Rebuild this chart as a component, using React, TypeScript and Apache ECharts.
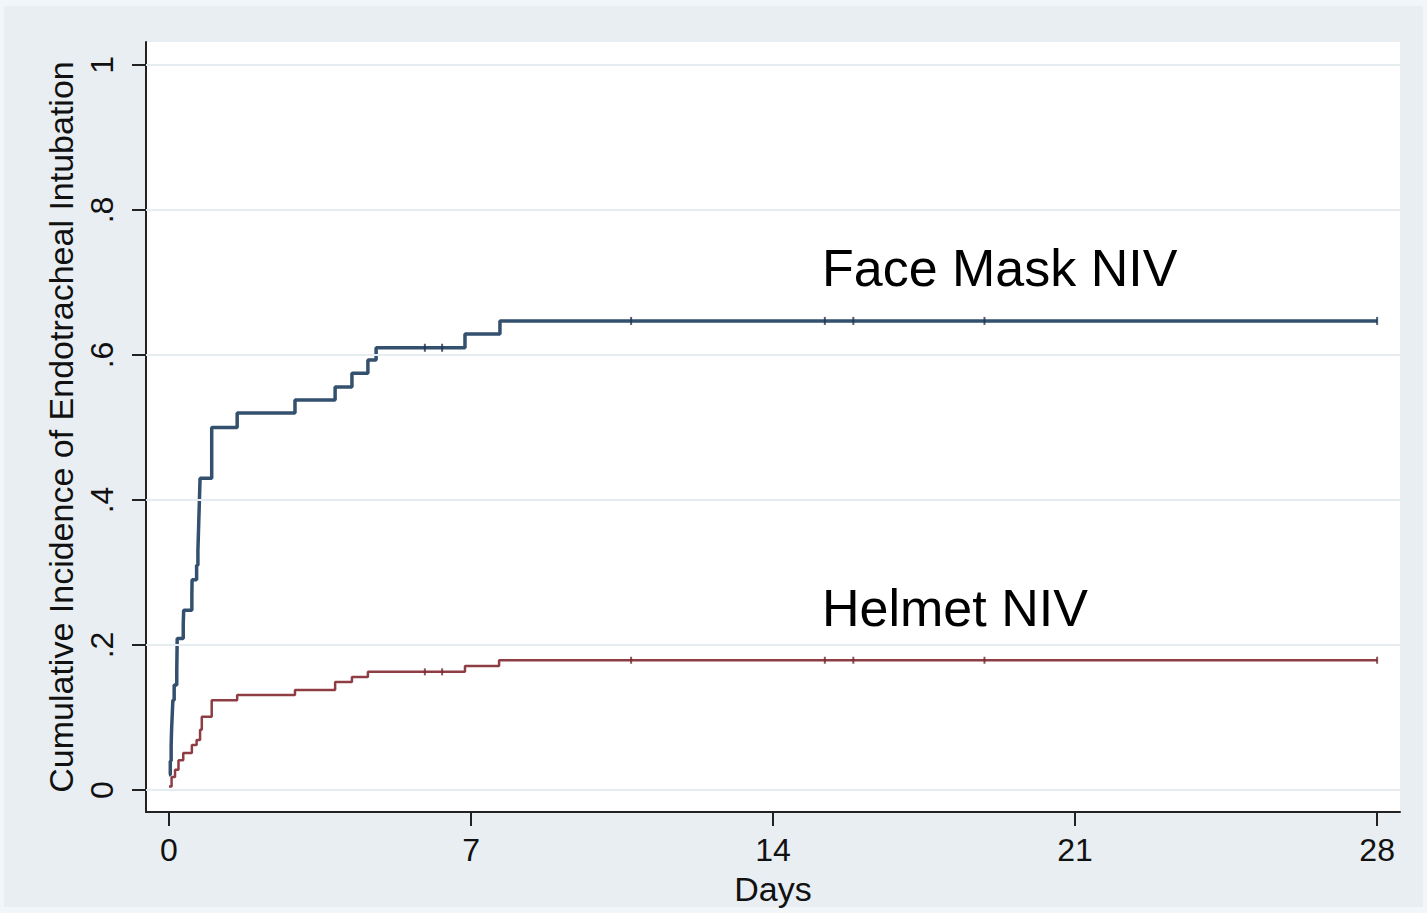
import React, { useEffect, useRef } from "react";
import * as echarts from "echarts";

const xTicks = [0, 7, 14, 21, 28];
const yTicks = [0, 0.2, 0.4, 0.6, 0.8, 1];

// Face Mask NIV cumulative incidence [day, value]
const faceMask: [number, number][] = [
  [0, 0.021], [0.03, 0.04], [0.05, 0.062], [0.06, 0.083], [0.075, 0.104],
  [0.09, 0.124], [0.12, 0.145], [0.18, 0.166], [0.185, 0.187], [0.19, 0.209],
  [0.33, 0.228], [0.34, 0.248], [0.53, 0.269], [0.535, 0.29], [0.64, 0.31],
  [0.67, 0.33], [0.68, 0.35], [0.69, 0.37], [0.70, 0.39], [0.71, 0.41],
  [0.72, 0.43], [0.99, 0.50], [1.58, 0.52], [2.92, 0.538], [3.85, 0.556],
  [4.24, 0.575], [4.61, 0.593], [4.80, 0.61], [6.86, 0.629], [7.67, 0.647],
  [28, 0.647],
];

// Helmet NIV cumulative incidence [day, value]
const helmet: [number, number][] = [
  [0, 0.005], [0.06, 0.018], [0.14, 0.028], [0.22, 0.041], [0.33, 0.051],
  [0.53, 0.062], [0.64, 0.069], [0.72, 0.083], [0.76, 0.101], [0.99, 0.124],
  [1.58, 0.131], [2.92, 0.138], [3.85, 0.149], [4.24, 0.156], [4.61, 0.163],
  [6.86, 0.171], [7.65, 0.179], [28, 0.179],
];

// censoring times (days)
const censorDays = [5.93, 6.33, 10.71, 15.2, 15.86, 18.9, 28];

const seriesNames = ["Face Mask NIV", "Helmet NIV"];

function valueAt(curve: [number, number][], d: number): number {
  let v = curve[0][1];
  for (const [t, y] of curve) {
    if (t <= d) v = y;
  }
  return v;
}

const FONT = "Liberation Sans, Arial, Helvetica, sans-serif";

export default function App() {
  const ref = useRef<HTMLDivElement>(null);
  useEffect(() => {
    if (!ref.current) return;
    const chart = echarts.init(ref.current, undefined, { renderer: "svg" });
    const blue = "#34506f";
    const red = "#8f3d44";
    const option: any = {
      animation: false,
      backgroundColor: "#f2f6f8",
      graphic: [
        {
          type: "rect",
          z: -10,
          silent: true,
          shape: { x: 4, y: 6, width: 1419, height: 901 },
          style: { fill: "#e8eef1" },
        },
        {
          type: "text",
          z: 10,
          style: {
            x: 822,
            y: 242,
            text: seriesNames[0],
            font: `52px ${FONT}`,
            fill: "#000",
            verticalAlign: "top",
          },
        },
        {
          type: "text",
          z: 10,
          style: {
            x: 822,
            y: 582,
            text: seriesNames[1],
            font: `52px ${FONT}`,
            fill: "#000",
            verticalAlign: "top",
          },
        },
      ],
      grid: {
        left: 146,
        right: 27,
        top: 42,
        bottom: 101,
        show: true,
        backgroundColor: "#ffffff",
        borderWidth: 0,
        containLabel: false,
      },
      xAxis: {
        type: "value",
        min: -0.533,
        max: 28.53,
        name: "Days",
        nameLocation: "middle",
        nameGap: 60,
        nameTextStyle: { fontFamily: FONT, fontSize: 34, color: "#111" },
        axisLine: { show: true, onZero: false, lineStyle: { color: "#222", width: 2 } },
        axisTick: { show: true, length: 14, customValues: xTicks, lineStyle: { color: "#222", width: 2 } },
        axisLabel: {
          customValues: xTicks,
          margin: 22,
          fontFamily: FONT,
          fontSize: 32,
          color: "#111",
        },
        splitLine: { show: false },
      },
      yAxis: {
        type: "value",
        min: -0.0303,
        max: 1.0317,
        name: "Cumulative Incidence of Endotracheal Intubation",
        nameLocation: "middle",
        nameGap: 64,
        nameTextStyle: { fontFamily: FONT, fontSize: 34, color: "#111" },
        axisLine: { show: true, onZero: false, lineStyle: { color: "#222", width: 2 } },
        axisTick: { show: true, length: 14, customValues: yTicks, lineStyle: { color: "#222", width: 2 } },
        axisLabel: {
          customValues: yTicks,
          rotate: 90,
          margin: 28,
          fontFamily: FONT,
          fontSize: 32,
          color: "#111",
          formatter: (v: number) => {
            if (Math.abs(v) < 1e-9) return "0";
            if (Math.abs(v - 1) < 1e-9) return "1";
            return "." + String(Math.round(v * 10));
          },
        },
        splitLine: { show: false },
      },
      series: [
        {
          name: "grid",
          type: "line",
          silent: true,
          data: [],
          markLine: {
            silent: true,
            symbol: "none",
            label: { show: false },
            lineStyle: { color: "#e6edf0", width: 2, type: "solid" },
            data: yTicks.map((y) => ({ yAxis: y })),
          },
          z: 1,
        },
        {
          name: seriesNames[0],
          type: "line",
          step: "end",
          data: faceMask,
          showSymbol: false,
          lineStyle: { color: blue, width: 3.5 },
          z: 3,
        },
        {
          name: seriesNames[1],
          type: "line",
          step: "end",
          data: helmet,
          showSymbol: false,
          lineStyle: { color: red, width: 2.5 },
          z: 3,
        },
        {
          name: "censor1",
          type: "scatter",
          symbol: "rect",
          symbolSize: [2, 8],
          itemStyle: { color: "#1f3550" },
          data: censorDays.map((d) => [d, valueAt(faceMask, d)]),
          z: 4,
        },
        {
          name: "censor2",
          type: "scatter",
          symbol: "rect",
          symbolSize: [2, 7],
          itemStyle: { color: "#6e2a30" },
          data: censorDays.map((d) => [d, valueAt(helmet, d)]),
          z: 4,
        },
      ],
    };
    chart.setOption(option);
    return () => chart.dispose();
  }, []);
  return (
    <div
      ref={ref}
      style={{ position: "absolute", left: 0, top: 0, width: 1427, height: 913 }}
    />
  );
}
